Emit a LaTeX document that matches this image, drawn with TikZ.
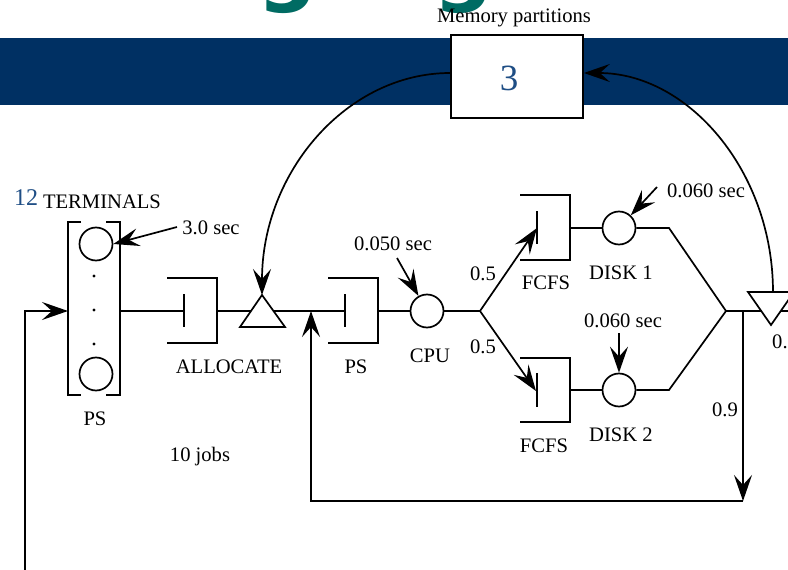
\documentclass[tikz,border=0pt]{standalone}
\usepackage{fontspec}
\setmainfont{Liberation Serif}
\newfontfamily\titlefont{DejaVu Sans}
\usetikzlibrary{arrows.meta}
\definecolor{bandblue}{HTML}{003063}
\definecolor{numblue}{HTML}{1F4E85}
\definecolor{titleteal}{HTML}{006B63}
\tikzset{
  ln/.style={line width=1.7pt,line join=miter},
  arr/.style={ln,-{Stealth[length=26pt,width=18pt,inset=10pt]}},
  srv/.style={circle,draw,line width=1.7pt,fill=white,minimum size=33pt,inner sep=0pt},
  lab/.style={inner sep=0pt,yshift=-1pt,font=\fontsize{20.6}{24}\selectfont},
  num/.style={inner sep=0pt,text=numblue},
  tri/.style={draw,line width=1.7pt,fill=white,line join=miter},
  titleg/.style={inner sep=0pt,anchor=base,text=titleteal,font=\fontsize{84}{90}\selectfont\titlefont\bfseries},
}
\begin{document}
\begin{tikzpicture}[x=1pt,y=-1pt]
\clip (0,0) rectangle (788,570);
\fill[white] (0,0) rectangle (788,570);
% title remnants
\node[titleg] (tg1) at (288,-5) {g};
\node[titleg] (tg2) at (464,-5) {g};
\fill[bandblue] (0,38) rectangle (788,105);
% memory box
\node[draw,line width=1.7pt,fill=white,minimum width=132pt,minimum height=83pt,inner sep=0pt] (mem) at (517,76.5) {};
\node[num,font=\fontsize{37}{40}\selectfont] (memnum) at (509,78) {3};
\node[lab,yshift=-1pt] (memlab) at (514,16) {Memory partitions};
% coordinates
\coordinate (inL) at (25,570);
\coordinate (inC) at (25,311);
\coordinate (forkA) at (480,311);
\coordinate (joinA) at (726,311);
\coordinate (j1) at (669,228);
\coordinate (j2) at (669,390);
\coordinate (drop) at (743,311);
\coordinate (dropB) at (743,501);
\coordinate (backB) at (311,501);
\coordinate (backT) at (311,311);
\coordinate (allocApex) at (262,295);
\coordinate (relBase) at (773,292);
\coordinate (outEnd) at (788,311);
% terminals
\draw[ln] (81,222) -- (68,222) -- (68,395) -- (81,395);
\draw[ln] (106,222) -- (120,222) -- (120,395) -- (106,395);
\node[srv] (t1) at (96,244) {};
\node[srv] (t2) at (96,374) {};
\fill (94,276) circle (1.7pt) (94,310) circle (1.7pt) (94,344) circle (1.7pt);
\coordinate (termW) at (68,311);
\coordinate (termE) at (120,311);
% lines along the main path
\coordinate (qaTick) at (184,311);
\coordinate (qaBack) at (217,311);
\coordinate (qpTick) at (345,311);
\coordinate (qpBack) at (378,311);
\coordinate (q1Tick) at (537,228);
\coordinate (q1Back) at (570,228);
\coordinate (q2Tick) at (536,391);
\coordinate (q2Back) at (570,390);
\draw[ln] (termE) -- (qaTick);
\draw[ln] (qaBack) -- (qpTick);
% queues
\draw[ln] (167,278) -- (217,278) -- (217,343) -- (167,343);
\draw[ln] (184,294) -- (184,327);
\draw[ln] (328,278) -- (378,278) -- (378,343) -- (328,343);
\draw[ln] (345,294) -- (345,327);
\draw[ln] (520,195) -- (570,195) -- (570,260) -- (520,260);
\draw[ln] (537,211) -- (537,244);
\draw[ln] (520,358) -- (570,358) -- (570,422) -- (520,422);
\draw[ln] (537,373) -- (537,407);
% triangles
\draw[tri] (allocApex) -- (285,327) -- (240,327) -- cycle;
\node[srv] (cpu) at (427,311) {};
\node[srv] (d1) at (619,228) {};
\node[srv] (d2) at (619,390) {};
\draw[ln] (qpBack) -- (cpu);
\draw[ln] (cpu) -- (forkA);
\draw[arr] (forkA) -- (q1Tick);
\draw[arr] (forkA) -- (q2Tick);
\draw[ln] (q1Back) -- (d1);
\draw[ln] (q2Back) -- (d2);
\draw[ln] (d1) -- (j1) -- (joinA);
\draw[ln] (d2) -- (j2) -- (joinA);
\draw[ln] (joinA) -- (outEnd);
\draw[tri] (748,292) -- (794,292) -- (771,325) -- cycle;
% feedback
\draw[arr] (drop) -- (dropB);
\draw[arr] (dropB) -- (backB) -- (backT);
\draw[arr] (inL) -- (inC) -- (termW);
% memory arcs
\draw[arr] (mem.west |- 0,73) .. controls (347,73) and (262,172) .. (allocApex);
\draw[arr] (relBase) .. controls (773,171) and (688,73) .. (mem.east |- 0,73);
% labels
\node[num,font=\fontsize{24}{26}\selectfont] (n12) at (26,198) {12};
\node[lab] (lterm) at (102,201) {TERMINALS};
\node[lab] (l30) at (211,227) {3.0 sec};
\node[lab] (lalloc) at (229,366) {ALLOCATE};
\node[lab] (lps) at (356,366) {PS};
\node[lab] (lpst) at (95,418) {PS};
\node[lab] (lcpu) at (430,355) {CPU};
\node[lab] (l50) at (393,243) {0.050 sec};
\node[lab] (p1) at (483,273) {0.5};
\node[lab] (p2) at (483,346) {0.5};
\node[lab] (f1) at (546,282) {FCFS};
\node[lab] (f2) at (544,445) {FCFS};
\node[lab] (ld1) at (621,272) {DISK 1};
\node[lab] (ld2) at (621,434) {DISK 2};
\node[lab] (l60a) at (706,190) {0.060 sec};
\node[lab] (l60b) at (623,320) {0.060 sec};
\node[lab] (p9) at (725,409) {0.9};
\node[lab,anchor=west] (p1b) at (772,341) {0.1};
\node[lab] (jobs) at (200,456) {10 jobs};
% pointers
\draw[arr] (177,227) -- (t1.east);
\draw[arr] (397,258) -- (cpu);
\draw[arr] (657,187) -- (d1);
\draw[arr] (619,333) -- (d2);
\end{tikzpicture}
\end{document}
